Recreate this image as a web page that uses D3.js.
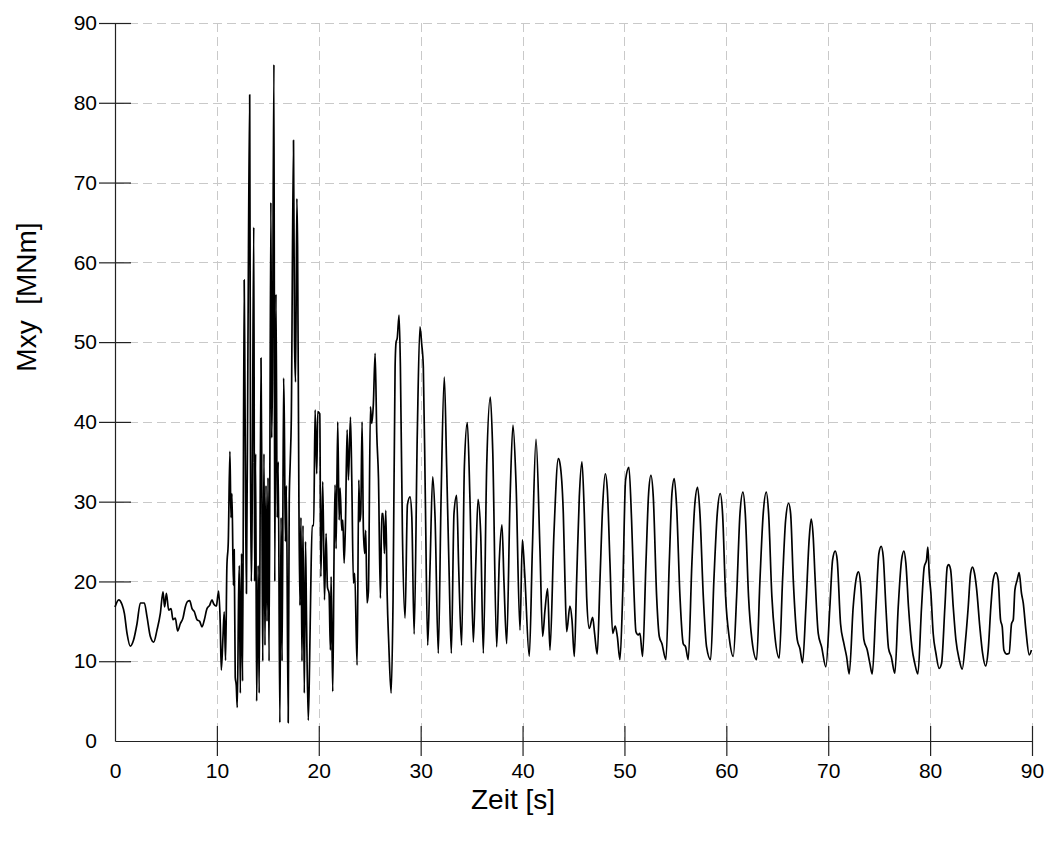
<!DOCTYPE html>
<html>
<head>
<meta charset="utf-8">
<script src="https://cdn.jsdelivr.net/npm/d3@7"></script>
<style>
  html, body { margin: 0; padding: 0; background: #fff; }
  svg { display: block; }
  text { font-family: "Liberation Sans", Arial, sans-serif; fill: #000; }
</style>
</head>
<body>
<svg id="chart" width="1051" height="845"></svg>
<script>
// ---- data ----
const xTicks = [0, 10, 20, 30, 40, 50, 60, 70, 80, 90];
const yTicks = [0, 10, 20, 30, 40, 50, 60, 70, 80, 90];
const xLabel = "Zeit [s]";
const yLabel = "Mxy  [MNm]";

const timeS = [
  0,0.36,0.69,0.92,1.18,1.5,1.83,2.16,2.49,2.88,3.14,3.47,3.8,4.12,4.45,4.71,4.87,5.04,5.27,5.5,5.69,5.92,6.15,6.41,6.67,6.9,7.13,7.33,7.56,7.79,8.05,8.31,8.54,8.77,9.03,9.29,9.52,9.68,9.94,10.17,10.33,10.43,10.6,10.72,10.85,10.98,
  11.12,11.28,11.38,11.48,11.62,11.7,11.8,11.9,12.0,12.13,12.2,12.3,12.42,12.52,12.68,12.75,12.82,12.9,13.05,13.22,13.3,13.38,13.45,13.62,13.7,13.8,13.9,14.05,14.15,14.33,14.42,14.5,14.62,14.72,14.82,14.92,15.02,15.12,15.3,15.38,15.45,15.6,15.68,15.8,15.92,16.02,16.18,16.3,16.4,16.55,16.62,16.72,16.82,17.0,17.1,17.2,17.3,17.52,17.62,17.72,17.85,17.92,18.05,18.15,18.25,18.35,18.45,18.58,18.7,18.8,18.97,19.1,19.2,19.35,19.5,19.64,19.8,19.9,20.1,
  20.2,20.39,20.56,20.72,20.85,21.01,21.14,21.21,21.37,21.5,21.6,21.7,21.86,22.0,22.09,22.26,22.36,22.49,22.62,22.78,22.91,23.11,23.24,23.4,23.53,23.76,23.93,24.02,24.12,24.25,24.38,24.51,24.61,24.74,24.87,25.07,25.2,25.36,25.53,25.69,25.86,26.05,26.18,26.31,26.44,26.58,26.71,26.87,27.1,27.29,27.49,27.59,27.7,27.88,28.01,28.21,28.47,28.7,28.96,29.13,29.36,
  29.67,29.93,30.1,30.26,30.46,30.69,30.92,31.18,31.41,31.73,32.0,32.32,32.55,32.78,33.01,33.27,33.53,33.73,34.02,34.29,34.58,34.84,35.17,35.4,35.63,35.89,36.15,36.48,36.84,37.07,37.46,37.72,37.98,38.18,38.44,38.77,39.06,39.36,39.75,39.98,40.21,40.66,40.96,41.32,41.71,41.97,42.2,42.46,42.69,43.08,43.51,
  43.67,44.0,44.16,44.33,44.65,44.85,45.08,45.31,45.57,45.83,46.06,46.29,46.55,46.88,47.07,47.33,47.6,47.86,48.12,48.32,48.58,48.84,49.1,49.3,49.56,49.82,50.11,50.44,50.7,50.93,51.13,51.36,51.52,51.78,52.11,52.37,52.6,52.83,53.16,53.42,53.68,54.07,54.4,54.66,54.89,55.12,55.45,55.77,56.0,56.26,56.62,56.89,57.18,57.41,57.74,58.06,58.46,58.78,59.11,59.4,59.63,59.93,60.29,60.68,61.01,61.34,61.63,61.86,62.18,62.51,62.97,63.3,63.62,63.92,64.15,64.47,64.77,65.19,65.52,65.82,66.11,66.31,66.57,66.96,67.22,67.48,
  67.81,68.14,68.33,68.53,68.69,69.02,69.35,69.77,70.16,70.43,70.69,70.88,71.21,71.54,71.8,72.06,72.45,72.78,72.98,73.17,73.5,73.83,74.09,74.32,74.68,74.97,75.2,75.4,75.66,75.92,76.18,76.54,76.87,77.2,77.43,77.62,77.88,78.21,78.5,78.8,79.16,79.42,79.65,79.78,79.91,80.08,80.3,80.57,80.89,81.12,81.45,81.68,81.81,82.01,82.27,82.53,82.86,83.15,83.48,83.74,83.97,84.16,84.36,84.56,84.88,85.15,85.44,85.7,85.96,86.19,86.45,86.68,86.91,87.08,87.24,87.5,87.76,87.99,88.16,88.32,88.55,88.74,88.97,89.14,89.4,89.73,89.95
];

const mxy = [
  16.8,17.7,17.1,16.0,13.5,11.9,12.7,14.7,17.3,17.3,15.6,13.1,12.4,13.9,16.0,18.7,16.8,18.5,16.4,16.6,15.2,15.4,13.8,14.7,15.4,16.8,17.5,17.6,16.6,16.2,15.2,15.0,14.3,15.2,16.6,17.0,17.7,17.2,16.9,18.8,14.7,8.9,13.1,16.2,10.1,21.8,
  25.0,36.3,28.0,31.0,19.5,24.0,8.0,7.0,4.2,18.0,22.0,6.0,23.5,7.5,57.8,45.0,30.0,18.5,50.0,81.0,35.0,20.0,27.0,64.4,20.0,36.0,5.0,22.0,6.0,48.0,30.0,10.0,36.0,12.0,32.0,15.0,33.0,10.0,67.5,38.0,45.0,84.8,20.0,56.0,28.0,35.0,2.3,28.0,10.0,45.5,40.0,25.0,32.0,2.3,30.0,35.0,40.0,75.3,50.0,45.0,68.0,62.0,30.0,17.0,28.0,10.0,27.0,6.0,25.0,15.0,2.6,10.0,18.0,27.0,27.0,41.5,33.5,41.3,41.0,
  20.6,32.5,17.7,26.0,19.3,18.5,11.4,20.6,6.2,23.5,32.1,24.1,40.0,27.7,31.7,26.4,27.7,22.3,27.3,39.0,32.7,40.6,32.7,19.8,21.0,9.5,32.7,27.5,28.5,40.0,26.4,23.5,26.4,17.3,18.7,41.9,39.8,42.3,48.6,38.6,32.9,17.9,28.5,28.5,23.5,28.9,18.5,12.2,6.0,17.7,46.9,50.0,50.5,53.4,46.9,26.0,15.4,29.6,30.6,28.1,13.4,
  38.6,51.9,49.8,46.9,30.2,12.0,21.8,33.1,28.1,11.0,30.2,45.6,34.4,21.8,11.0,28.5,30.8,21.8,12.0,34.4,39.9,30.2,12.4,21.8,30.3,26.0,11.0,34.4,43.1,36.5,11.8,22.7,27.1,19.8,12.2,30.2,39.6,32.3,13.9,25.2,21.0,10.6,23.9,37.8,23.9,13.1,16.4,19.1,11.4,26.0,35.4,
  34.8,28.5,20.2,13.7,16.9,15.2,10.6,20.2,30.6,35.0,28.5,18.1,14.1,15.5,13.5,10.9,20.2,29.4,33.5,31.5,22.3,13.5,14.4,13.1,10.2,18.1,32.7,34.3,27.7,18.9,13.7,13.3,13.5,10.6,22.3,31.0,33.3,30.6,18.1,13.1,12.2,10.2,22.3,31.0,32.9,29.4,18.1,12.2,11.8,10.2,22.3,29.4,31.8,28.5,18.1,11.8,10.2,20.2,28.5,31.0,28.5,18.1,12.9,10.6,18.1,28.5,31.2,28.5,18.1,12.7,10.2,20.2,28.5,31.2,28.5,18.1,13.1,10.4,20.2,27.7,29.8,28.5,20.2,12.7,11.6,9.8,
  16.8,25.5,27.8,25.5,21.0,13.5,11.8,9.3,16.8,22.7,23.8,22.7,14.7,12.2,10.6,8.4,16.8,20.6,21.2,19.8,12.7,11.4,9.7,8.4,16.8,23.5,24.4,23.1,16.8,11.6,10.6,8.5,16.8,22.7,23.8,22.3,16.8,11.8,9.7,8.4,16.8,21.8,22.7,24.3,21.0,18.5,13.5,11.0,9.1,9.7,16.8,21.8,22.1,21.5,16.8,12.7,10.2,9.0,12.7,16.8,21.0,21.8,21.0,19.1,14.3,11.0,9.4,11.4,16.8,20.2,21.1,20.2,15.2,14.3,11.4,10.9,11.0,14.7,15.2,18.9,20.2,21.1,18.5,17.3,13.9,10.8,11.4
];

// ---- chart ----
const svg = d3.select("#chart");
const x = d3.scaleLinear().domain([0, 90]).range([115, 1032]);
const y = d3.scaleLinear().domain([0, 90]).range([741, 23]);

// grid
const grid = svg.append("g").attr("stroke", "#c9c9c9").attr("stroke-width", 1)
  .attr("stroke-dasharray", "9,5").attr("fill", "none");
grid.selectAll("line.gx").data(xTicks.filter(d => d > 0)).join("line")
  .attr("class", "gx")
  .attr("x1", d => Math.round(x(d)) + 0.5).attr("x2", d => Math.round(x(d)) + 0.5)
  .attr("y1", y(90)).attr("y2", y(0));
grid.selectAll("line.gy").data(yTicks.filter(d => d > 0)).join("line")
  .attr("class", "gy")
  .attr("y1", d => Math.round(y(d)) + 0.5).attr("y2", d => Math.round(y(d)) + 0.5)
  .attr("x1", x(0)).attr("x2", x(90));

// axes
const fontSize = 21;
const ax = svg.append("g").attr("transform", `translate(0,${y(0)})`)
  .call(d3.axisBottom(x).tickValues(xTicks).tickSize(15).tickSizeOuter(0).tickPadding(7).tickFormat(d3.format("d")));
const axIn = svg.append("g").attr("transform", `translate(0,${y(0)})`)
  .call(d3.axisTop(x).tickValues(xTicks).tickSize(15).tickSizeOuter(0).tickFormat(""));
const ay = svg.append("g").attr("transform", `translate(${x(0)},0)`)
  .call(d3.axisLeft(y).tickValues(yTicks).tickSize(16).tickSizeOuter(0).tickPadding(2).tickFormat(d3.format("d")));
const ayIn = svg.append("g").attr("transform", `translate(${x(0)},0)`)
  .call(d3.axisRight(y).tickValues(yTicks).tickSize(16).tickSizeOuter(0).tickFormat(""));

[ax, axIn, ay, ayIn].forEach(g => {
  g.selectAll("path.domain").attr("stroke", "#222").attr("stroke-width", 1.2);
  g.selectAll(".tick line").attr("stroke", "#222").attr("stroke-width", 1.2)
    .filter(d => d === 0).remove();
  g.selectAll(".tick text").attr("font-size", fontSize)
    .attr("font-family", "'Liberation Sans', Arial, sans-serif").attr("fill", "#000");
});
axIn.select("path.domain").remove();
ayIn.select("path.domain").remove();

// line
const line = d3.line()
  .x((d, i) => x(timeS[i]))
  .y(d => y(d))
  .curve(d3.curveMonotoneX);
svg.append("path")
  .datum(mxy)
  .attr("fill", "none")
  .attr("stroke", "#000")
  .attr("stroke-width", 1.7)
  .attr("stroke-linejoin", "round")
  .attr("d", line);

// titles
svg.append("text")
  .attr("x", 513).attr("y", 809)
  .attr("text-anchor", "middle")
  .attr("font-size", 28)
  .text(xLabel);
svg.append("text")
  .attr("transform", "translate(36,297) rotate(-90)")
  .attr("text-anchor", "middle")
  .attr("font-size", 28)
  .style("white-space", "pre")
  .text(yLabel);
</script>
</body>
</html>
